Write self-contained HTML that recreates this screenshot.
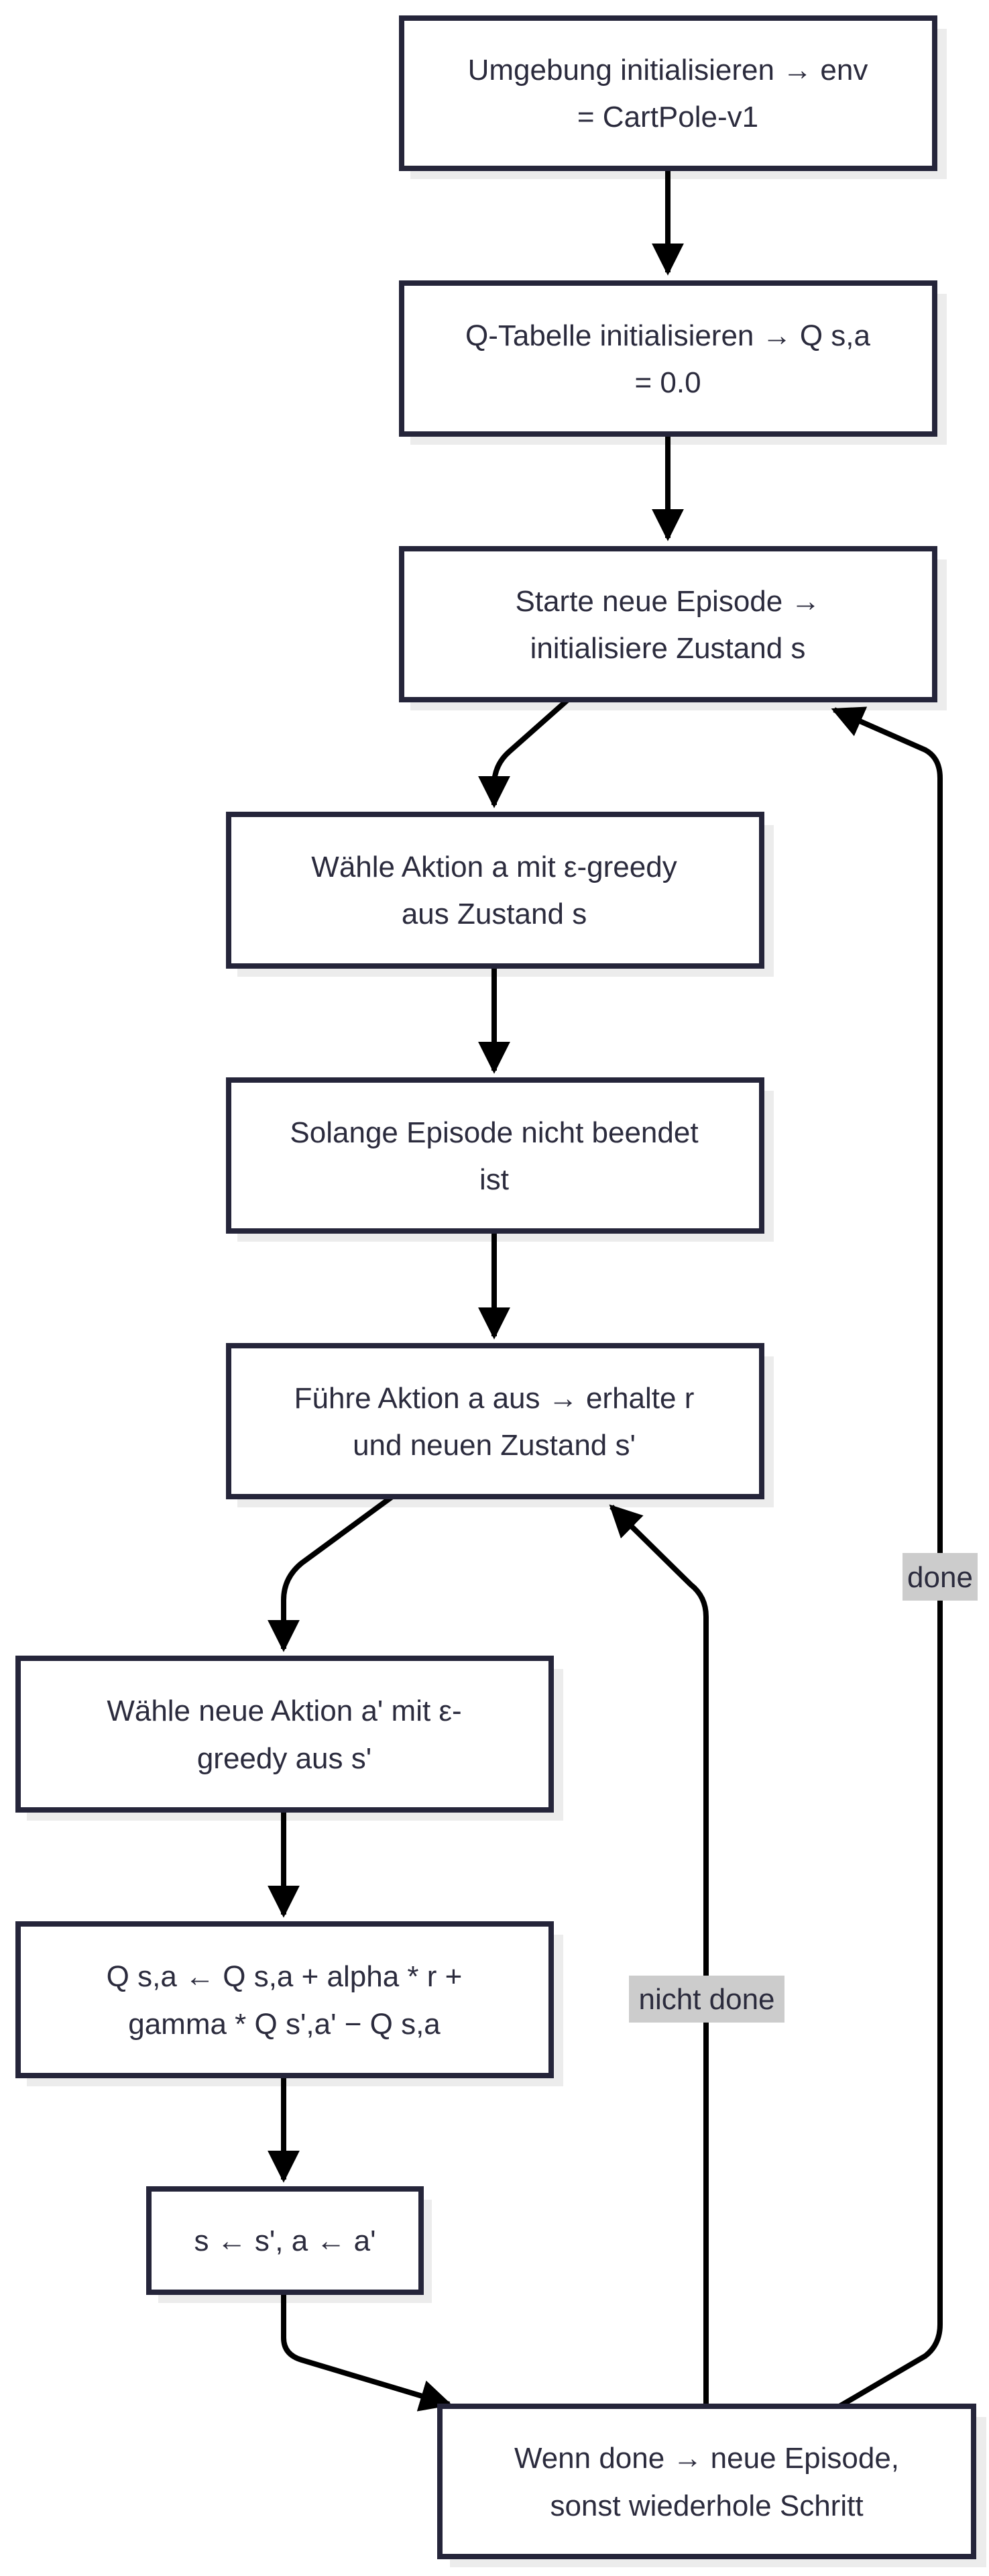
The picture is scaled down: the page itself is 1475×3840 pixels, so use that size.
<!DOCTYPE html>
<html><head><meta charset="utf-8"><style>
html,body{margin:0;padding:0;background:#fff;}
svg{display:block;}
text{font-family:"Liberation Sans",Arial,sans-serif;font-size:44px;fill:#2b2b3d;text-anchor:middle;}
.b{fill:#fff;stroke:#25253a;stroke-width:8;}
.s{fill:#ececec;}
.l{fill:none;stroke:#000;stroke-width:8;}
</style></head><body>
<svg width="1475" height="3840" viewBox="0 0 1475 3840" xmlns="http://www.w3.org/2000/svg">
<defs>
<marker id="a" viewBox="0 0 10 10" refX="9" refY="5" markerWidth="6" markerHeight="6" markerUnits="strokeWidth" orient="auto">
<path d="M0,0L10,5L0,10z" fill="#000"/></marker>
</defs>
<rect class="s" x="612" y="43" width="800" height="224"/>
<rect class="s" x="612" y="438" width="800" height="225"/>
<rect class="s" x="612" y="834" width="800" height="225"/>
<rect class="s" x="354" y="1230" width="800" height="226"/>
<rect class="s" x="354" y="1626" width="800" height="225"/>
<rect class="s" x="354" y="2022" width="800" height="225"/>
<rect class="s" x="40" y="2488" width="800" height="226"/>
<rect class="s" x="40" y="2884" width="800" height="226"/>
<rect class="s" x="236" y="3279" width="408" height="154"/>
<rect class="s" x="671" y="3603" width="800" height="224"/>
<path class="l" d="M996,251V406" marker-end="url(#a)"/>
<path class="l" d="M996,647V802" marker-end="url(#a)"/>
<path class="l" d="M847,1043L760,1120Q737,1140 737,1170V1200" marker-end="url(#a)"/>
<path class="l" d="M737,1440V1596" marker-end="url(#a)"/>
<path class="l" d="M737,1835V1992" marker-end="url(#a)"/>
<path class="l" d="M585,2231L450,2330Q423,2352 423,2385V2458" marker-end="url(#a)"/>
<path class="l" d="M423,2698V2854" marker-end="url(#a)"/>
<path class="l" d="M423,3094V3249" marker-end="url(#a)"/>
<path class="l" d="M423,3417V3485Q423,3510 450,3518L670,3584" marker-end="url(#a)"/>
<path class="l" d="M1053,3587V2410Q1053,2380 1030,2362L912,2246" marker-end="url(#a)"/>
<path class="l" d="M1252,3587L1380,3512Q1402,3495 1402,3465V1160Q1402,1130 1380,1118L1244,1058" marker-end="url(#a)"/>
<rect x="1346" y="2315" width="112" height="71" fill="#cccccc"/>
<text x="1402" y="2366">done</text>
<rect x="938" y="2945" width="232" height="70" fill="#cccccc"/>
<text x="1054" y="2995">nicht done</text>
<rect class="b" x="599" y="27" width="795" height="224"/>
<text x="996" y="119">Umgebung initialisieren → env</text>
<text x="996" y="189">= CartPole-v1</text>
<rect class="b" x="599" y="422" width="795" height="225"/>
<text x="996" y="515">Q-Tabelle initialisieren → Q s,a</text>
<text x="996" y="585">= 0.0</text>
<rect class="b" x="599" y="818" width="795" height="225"/>
<text x="996" y="911">Starte neue Episode →</text>
<text x="996" y="981">initialisiere Zustand s</text>
<rect class="b" x="341" y="1214" width="795" height="226"/>
<text x="737" y="1307">Wähle Aktion a mit ε-greedy</text>
<text x="737" y="1377">aus Zustand s</text>
<rect class="b" x="341" y="1610" width="795" height="225"/>
<text x="737" y="1703">Solange Episode nicht beendet</text>
<text x="737" y="1773">ist</text>
<rect class="b" x="341" y="2006" width="795" height="225"/>
<text x="737" y="2099">Führe Aktion a aus → erhalte r</text>
<text x="737" y="2169">und neuen Zustand s'</text>
<rect class="b" x="27" y="2472" width="795" height="226"/>
<text x="424" y="2565">Wähle neue Aktion a' mit ε-</text>
<text x="424" y="2636">greedy aus s'</text>
<rect class="b" x="27" y="2868" width="795" height="226"/>
<text x="424" y="2961">Q s,a ← Q s,a + alpha * r +</text>
<text x="424" y="3032">gamma * Q s',a' − Q s,a</text>
<rect class="b" x="222" y="3263" width="406" height="154"/>
<text x="425" y="3355">s ← s', a ← a'</text>
<rect class="b" x="656" y="3587" width="796" height="224"/>
<text x="1054" y="3679">Wenn done → neue Episode,</text>
<text x="1054" y="3750">sonst wiederhole Schritt</text>
</svg>
</body></html>
